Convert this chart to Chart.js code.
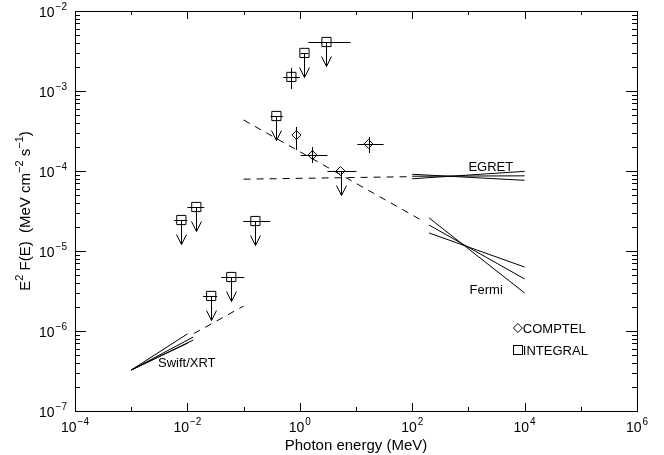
<!DOCTYPE html>
<html><head><meta charset="utf-8">
<script src="https://cdn.jsdelivr.net/npm/chart.js@4"></script>
<style>html,body{margin:0;padding:0;background:#fff;}canvas{display:block;}</style>
</head><body>
<canvas id="c" width="664" height="455" style="width:664px;height:455px"></canvas>
<script>
// ---- axis tick labels (powers of ten) ----
const xTickExps = [-4, -2, 0, 2, 4, 6];
const xMinorExps = [-3, -1, 1, 3, 5];
const yTickExps = [-7, -6, -5, -4, -3, -2];

// ---- INTEGRAL (squares) ----
const integralE    = [0.0078, 0.0144, 0.0265, 0.0604, 0.162, 0.383, 0.708, 1.21, 2.98];
const integralF    = [2.44e-5, 3.55e-5, 2.74e-6, 4.73e-6, 2.37e-5, 4.87e-4, 1.50e-3, 2.99e-3, 4.10e-3];
const integralEMin = [0.0058, 0.010, 0.019, 0.040, 0.099, 0.30, 0.51, 1.03, 1.42];
const integralEMax = [0.010, 0.020, 0.034, 0.103, 0.30, 0.50, 1.0, 1.42, 8.0];
const integralFMin = [null, null, null, null, null, null, 1.06e-3, null, null];
const integralFMax = [null, null, null, null, null, null, 1.94e-3, null, null];
const integralUL   = [1, 1, 1, 1, 1, 1, 0, 1, 1];

// ---- COMPTEL (diamonds) ----
const comptelE    = [0.87, 1.68, 5.3, 16.7];
const comptelF    = [2.82e-4, 1.58e-4, 1.0e-4, 2.18e-4];
const comptelEMin = [null, 1.03, 3.1, 10.6];
const comptelEMax = [null, 3.1, 10.2, 31];
const comptelFMin = [1.83e-4, 1.26e-4, null, 1.68e-4];
const comptelFMax = [3.55e-4, 2.0e-4, null, 2.66e-4];
const comptelUL   = [0, 0, 1, 0];

// ---- Swift/XRT butterfly ----
const swiftE  = [1.0e-3, 0.0100, 0.0127, 0.0127, 0.0103];
const swiftF1 = [3.25e-7, 9.2e-7];
const swiftF2 = [3.25e-7, 8.4e-7];
const swiftF3 = [3.25e-7, 7.7e-7];
const swiftF4 = [3.25e-7, 7.1e-7];

// ---- EGRET butterfly ----
const egretE  = [100, 1e4];
const egretF1 = [8.0e-5, 9.9e-5];
const egretF2 = [8.6e-5, 8.7e-5];
const egretF3 = [9.1e-5, 7.65e-5];

// ---- Fermi butterfly ----
const fermiE  = [200, 1e4];
const fermiF1 = [2.59e-5, 2.99e-6];
const fermiF2 = [2.11e-5, 4.47e-6];
const fermiF3 = [1.68e-5, 6.3e-6];

// ---- dashed model lines ----
const dashAE = [0.013, 0.1], dashAF = [9.3e-7, 2.05e-6];
const dashBE = [0.1, 100],   dashBF = [7.9e-5, 8.5e-5];
const dashCE = [0.1, 160],   dashCF = [4.34e-4, 2.34e-5];

const FONT = '"Liberation Sans", Arial, sans-serif';

function pts(E, F) { return E.map((e, i) => ({x: e, y: F[i]})); }
function line(data, dash) {
  return {data, showLine: true, pointRadius: 0, borderColor: '#000', borderWidth: 1,
          borderDash: dash || [], fill: false, tension: 0};
}

const datasets = [
  line(pts([swiftE[0], swiftE[1]], swiftF1)),
  line(pts([swiftE[0], swiftE[2]], swiftF2)),
  line(pts([swiftE[0], swiftE[3]], swiftF3)),
  line(pts([swiftE[0], swiftE[4]], swiftF4)),
  line(pts(egretE, egretF1)), line(pts(egretE, egretF2)), line(pts(egretE, egretF3)),
  line(pts(fermiE, fermiF1)), line(pts(fermiE, fermiF2)), line(pts(fermiE, fermiF3)),
  line(pts(dashAE, dashAF), [7, 6]),
  line(pts(dashBE, dashBF), [7, 6]),
  line(pts(dashCE, dashCF), [7, 6]),
  {label: 'COMPTEL', data: pts(comptelE, comptelF), pointStyle: 'rectRot', pointRadius: 4.5,
   borderColor: '#000', backgroundColor: 'rgba(0,0,0,0)', pointBorderWidth: 1, showLine: false},
  {label: 'INTEGRAL', data: pts(integralE, integralF), pointStyle: 'rect', pointRadius: 6.5,
   borderColor: '#000', backgroundColor: 'rgba(0,0,0,0)', pointBorderWidth: 1, showLine: false}
];

function drawPow(ctx, x, y, exp, align) {
  const base = '10', sup = exp < 0 ? '\u2212' + (-exp) : String(exp);
  ctx.font = '14px ' + FONT;
  const wb = ctx.measureText(base).width;
  ctx.font = '10px ' + FONT;
  const ws = ctx.measureText(sup).width;
  const total = wb + ws + 1;
  let left = align === 'right' ? x - total : x - total / 2;
  ctx.textAlign = 'left'; ctx.textBaseline = 'alphabetic';
  ctx.font = '14px ' + FONT;
  ctx.fillText(base, left, y);
  ctx.font = '10px ' + FONT;
  ctx.fillText(sup, left + wb + 1, y - 7);
}

function drawRich(ctx, parts, x, y, align, size) {
  const big = size + 'px ', small = Math.round(size * 0.7) + 'px ';
  let total = 0;
  parts.forEach(p => { ctx.font = (p[1] ? small : big) + FONT; total += ctx.measureText(p[0]).width; });
  let cx = align === 'center' ? x - total / 2 : x;
  ctx.textAlign = 'left'; ctx.textBaseline = 'alphabetic';
  parts.forEach(p => {
    ctx.font = (p[1] ? small : big) + FONT;
    ctx.fillText(p[0], cx, p[1] ? y - 7 : y);
    cx += ctx.measureText(p[0]).width;
  });
}

const overlay = {
  id: 'overlay',
  beforeDatasetsDraw(chart) {
    const {ctx, scales: {x, y}} = chart;
    ctx.save();
    ctx.strokeStyle = '#000'; ctx.lineWidth = 1;
    const R = v => Math.round(v) + 0.5;
    const drawSet = (E, F, Emin, Emax, Fmin, Fmax, UL) => {
      for (let i = 0; i < E.length; i++) {
        const px = R(x.getPixelForValue(E[i])), py = R(y.getPixelForValue(F[i]));
        ctx.beginPath();
        if (Emin[i] != null) { ctx.moveTo(x.getPixelForValue(Emin[i]), py); ctx.lineTo(x.getPixelForValue(Emax[i]), py); }
        if (Fmin[i] != null) { ctx.moveTo(px, y.getPixelForValue(Fmax[i])); ctx.lineTo(px, y.getPixelForValue(Fmin[i])); }
        if (UL[i]) {
          const tip = py + 24;
          ctx.moveTo(px, py); ctx.lineTo(px, tip);
          ctx.moveTo(px - 5, tip - 10); ctx.lineTo(px, tip); ctx.lineTo(px + 5, tip - 10);
        }
        ctx.stroke();
      }
    };
    drawSet(integralE, integralF, integralEMin, integralEMax, integralFMin, integralFMax, integralUL);
    drawSet(comptelE, comptelF, comptelEMin, comptelEMax, comptelFMin, comptelFMax, comptelUL);
    ctx.restore();
  },
  afterDatasetsDraw(chart) {
    const {ctx, chartArea: a, scales: {x, y}} = chart;
    ctx.save();
    ctx.strokeStyle = '#000'; ctx.fillStyle = '#000'; ctx.lineWidth = 1;
    const R = v => Math.round(v) + 0.5;
    // frame
    ctx.strokeRect(R(a.left), R(a.top), Math.round(a.right - a.left), Math.round(a.bottom - a.top));
    ctx.beginPath();
    // y ticks
    yTickExps.forEach(e => {
      const py = R(y.getPixelForValue(Math.pow(10, e)));
      ctx.moveTo(a.left, py); ctx.lineTo(a.left + 11, py);
      ctx.moveTo(a.right, py); ctx.lineTo(a.right - 11, py);
      if (e < yTickExps[yTickExps.length - 1]) {
        for (let m = 2; m <= 9; m++) {
          const my = R(y.getPixelForValue(m * Math.pow(10, e)));
          ctx.moveTo(a.left, my); ctx.lineTo(a.left + 5, my);
          ctx.moveTo(a.right, my); ctx.lineTo(a.right - 5, my);
        }
      }
    });
    // x ticks
    xTickExps.forEach(e => {
      const px = R(x.getPixelForValue(Math.pow(10, e)));
      ctx.moveTo(px, a.bottom); ctx.lineTo(px, a.bottom - 8);
      ctx.moveTo(px, a.top); ctx.lineTo(px, a.top + 8);
    });
    xMinorExps.forEach(e => {
      const px = R(x.getPixelForValue(Math.pow(10, e)));
      ctx.moveTo(px, a.bottom); ctx.lineTo(px, a.bottom - 4);
      ctx.moveTo(px, a.top); ctx.lineTo(px, a.top + 4);
    });
    ctx.stroke();
    // tick labels
    xTickExps.forEach(e => drawPow(ctx, x.getPixelForValue(Math.pow(10, e)), a.bottom + 21, e, 'center'));
    yTickExps.forEach(e => drawPow(ctx, a.left - 8, y.getPixelForValue(Math.pow(10, e)) + 6, e, 'right'));
    // axis titles
    drawRich(ctx, [['Photon energy (MeV)', false]], (a.left + a.right) / 2, a.bottom + 39, 'center', 15);
    ctx.save();
    ctx.translate(30, (a.top + a.bottom) / 2);
    ctx.rotate(-Math.PI / 2);
    drawRich(ctx, [['E', false], ['2', true], [' F(E)  (MeV cm', false], ['\u22122', true], [' s', false], ['\u22121', true], [')', false]], 0, 0, 'center', 15);
    ctx.restore();
    // series labels
    ctx.font = '13px ' + FONT; ctx.textAlign = 'left'; ctx.textBaseline = 'alphabetic';
    ctx.fillText('EGRET', x.getPixelForValue(1.0e3), y.getPixelForValue(1.0e-4));
    ctx.fillText('Fermi', x.getPixelForValue(1.05e3), y.getPixelForValue(2.9e-6));
    ctx.fillText('Swift/XRT', x.getPixelForValue(3.0e-3), y.getPixelForValue(3.5e-7));
    // legend
    const lx = a.left + 0.788 * (a.right - a.left);
    const ly1 = a.top + 0.7925 * (a.bottom - a.top);
    const ly2 = a.top + 0.8475 * (a.bottom - a.top);
    ctx.beginPath();
    ctx.moveTo(lx - 4.5, ly1); ctx.lineTo(lx, ly1 - 4.5); ctx.lineTo(lx + 4.5, ly1); ctx.lineTo(lx, ly1 + 4.5); ctx.closePath();
    ctx.stroke();
    ctx.strokeRect(R(lx - 5), R(ly2 - 5), 9, 9);
    ctx.textBaseline = 'middle';
    ctx.fillText('COMPTEL', lx + 5, ly1 + 1);
    ctx.fillText('INTEGRAL', lx + 5, ly2 + 1);
    ctx.restore();
  }
};

new Chart(document.getElementById('c'), {
  type: 'scatter',
  data: {datasets},
  options: {
    responsive: false, animation: false, devicePixelRatio: 1,
    layout: {padding: {left: 75, right: 27, top: 11, bottom: 44}},
    scales: {
      x: {type: 'logarithmic', min: 1e-4, max: 1e6, display: false},
      y: {type: 'logarithmic', min: 1e-7, max: 1e-2, display: false}
    },
    plugins: {legend: {display: false}, tooltip: {enabled: false}},
    elements: {point: {hoverRadius: 0}}
  },
  plugins: [overlay]
});
</script>
</body></html>
